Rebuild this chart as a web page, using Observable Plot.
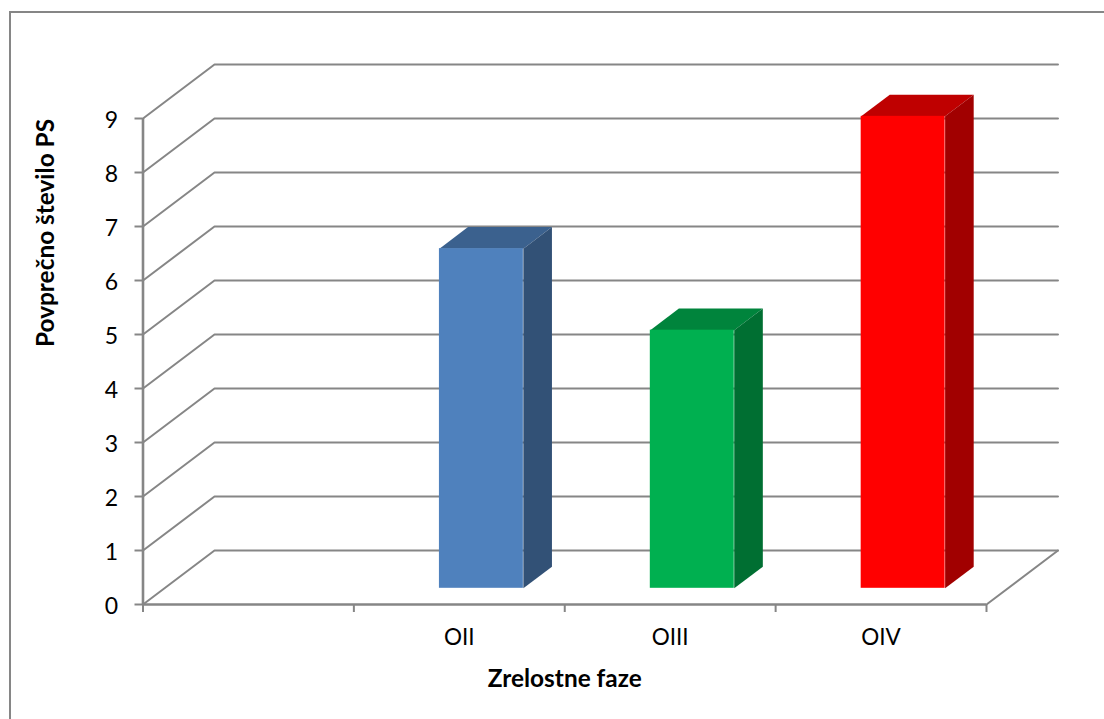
<!DOCTYPE html>
<html lang="sl">
<head>
<meta charset="utf-8">
<title>Povprečno število PS</title>
<script src="https://cdn.jsdelivr.net/npm/d3@7"></script>
<script src="https://cdn.jsdelivr.net/npm/@observablehq/plot@0.6"></script>
<style>
  html, body { margin: 0; padding: 0; background: #fff; }
  #chart { position: relative; width: 1104px; height: 719px; overflow: hidden; }
  #chart svg { display: block; position: absolute; left: 0; top: 0; background: transparent; }
  /* Only the top and left edges of the chart area's outline fall inside the page. */
  #border { position: absolute; left: 9px; top: 11px; width: 1200px; height: 800px; border: 2px solid #868686; }
</style>
</head>
<body>
<div id="chart"><div id="border"></div></div>
<script>
// Mean counts per maturity phase; the first slot of the axis has no label and no bar.
const categories = ["", "OII", "OIII", "OIV"];
const values = [null, 6.29, 4.78, 8.74];
const frontColors = [null, "#4f81bd", "#00b050", "#ff0000"];
const topColors = [null, "#3b618e", "#00843c", "#bf0000"];
const sideColors = [null, "#325176", "#006f32", "#a10000"];
const valueTicks = [0, 1, 2, 3, 4, 5, 6, 7, 8, 9];
const slotEdges = [0, 1, 2, 3, 4];
const slotCentres = [0.5, 1.5, 2.5, 3.5];

// Oblique projection: a point at depth d (0 = front, 1 = back wall) shifts right and up.
const depthX = 71.5 / 210.9;
const depthY = 1;
const px = (x, d) => x + d * depthX;
const py = (v, d) => v + d * depthY;

// Bars fill the middle of each slot in both width and depth.
const barStart = 0.304;
const barEnd = 0.702;
const barNear = 0.3;
const barFar = 0.7;

const bars = categories
  .map((name, i) => ({
    name, i, value: values[i],
    left: i + barStart, right: i + barEnd,
    front: frontColors[i], top: topColors[i], side: sideColors[i]
  }))
  .filter((b) => b.value != null);

// A wall line per tick: along the left wall, then across the back wall.
const wallLines = valueTicks.flatMap((v) => [
  {k: v, x: px(0, 0), y: py(v, 0)},
  {k: v, x: px(0, 1), y: py(v, 1)},
  {k: v, x: px(4, 1), y: py(v, 1)}
]);
const floorEdge = [
  {x: px(4, 0), y: py(0, 0)},
  {x: px(4, 1), y: py(0, 1)}
];

const topFaces = bars.flatMap((b) => [
  {name: b.name, fill: b.top, x: px(b.left, barNear), y: py(b.value, barNear)},
  {name: b.name, fill: b.top, x: px(b.right, barNear), y: py(b.value, barNear)},
  {name: b.name, fill: b.top, x: px(b.right, barFar), y: py(b.value, barFar)},
  {name: b.name, fill: b.top, x: px(b.left, barFar), y: py(b.value, barFar)}
]);
const sideFaces = bars.flatMap((b) => [
  {name: b.name, fill: b.side, x: px(b.right, barNear), y: py(0, barNear)},
  {name: b.name, fill: b.side, x: px(b.right, barNear), y: py(b.value, barNear)},
  {name: b.name, fill: b.side, x: px(b.right, barFar), y: py(b.value, barFar)},
  {name: b.name, fill: b.side, x: px(b.right, barFar), y: py(0, barFar)}
]);

const gridColor = "#868686";
const font = "Lato, Carlito, 'Open Sans', sans-serif";

const chart = Plot.plot({
  width: 1104,
  height: 719,
  marginLeft: 142.5,
  marginRight: 118,
  marginTop: 118,
  marginBottom: 115,
  style: {fontFamily: font, fontSize: "22.5px", color: "#000", background: "transparent"},
  x: {domain: [0, 4], axis: null},
  y: {domain: [0, 9], axis: null},
  marks: [
    Plot.line(wallLines, {x: "x", y: "y", z: "k", stroke: gridColor, strokeWidth: 2, strokeLinejoin: "miter"}),
    Plot.line(floorEdge, {x: "x", y: "y", stroke: gridColor, strokeWidth: 2}),

    Plot.ruleY([0], {stroke: gridColor, strokeWidth: 2.6}),
    Plot.ruleX([0], {stroke: gridColor, strokeWidth: 2.6}),

    Plot.axisY({
      ticks: valueTicks, tickSize: 8, stroke: gridColor, strokeWidth: 2,
      tickFormat: () => "", label: null
    }),
    Plot.axisY({
      ticks: valueTicks, tickSize: 0, tickPadding: 25, dy: 2, fill: "#000", fontSize: 23,
      label: null, tickFormat: (d) => d
    }),
    Plot.axisX({
      ticks: slotEdges, tickSize: 8, stroke: gridColor, strokeWidth: 2,
      tickFormat: () => "", label: null
    }),
    Plot.axisX({
      ticks: slotCentres, tickSize: 0, tickPadding: 25, fill: "#000", fontSize: 22.5,
      tickFormat: (d) => categories[Math.floor(d)], label: null
    }),

    Plot.line(topFaces, {x: "x", y: "y", z: "name", fill: "fill", stroke: null}),
    Plot.line(sideFaces, {x: "x", y: "y", z: "name", fill: "fill", stroke: null}),
    Plot.rect(bars, {
      x1: (b) => px(b.left, barNear), x2: (b) => px(b.right, barNear),
      y1: py(0, barNear), y2: (b) => py(b.value, barNear),
      fill: "front", inset: 0
    }),

    // Axis titles sit in the margins, placed relative to the frame.
    Plot.text(["Povprečno število PS"], {
      frameAnchor: "left", textAnchor: "middle", y: 6.88, dx: -97, rotate: -90,
      fontWeight: "bold", fontSize: 24.4, fill: "#000"
    }),
    Plot.text(["Zrelostne faze"], {
      frameAnchor: "bottom", x: 2, dy: 82,
      fontWeight: "bold", fontSize: 24.4, fill: "#000"
    })
  ]
});

document.getElementById("chart").appendChild(chart);
</script>
</body>
</html>
